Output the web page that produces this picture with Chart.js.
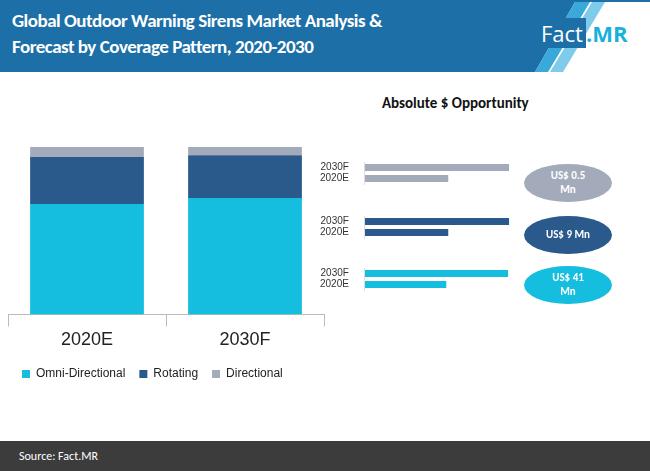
<!DOCTYPE html>
<html>
<head>
<meta charset="utf-8">
<script src="https://cdn.jsdelivr.net/npm/chart.js@4"></script>
<style>
  body { margin: 0; width: 650px; height: 471px; background: #fff; position: relative; overflow: hidden; font-family: Calibri, "Liberation Sans", Arial, sans-serif; }
  .hdr { position: absolute; left: 0; top: 0; width: 650px; height: 72px; }
  .title { position: absolute; left: 12px; top: 8px; color: #fff; font-size: 19px; font-weight: bold; line-height: 26px; letter-spacing: -0.5px; }
  .logo { position: absolute; left: 538px; top: 18px; font-size: 22px; font-family: "Open Sans", sans-serif; }
  .logo .box { background: #1d6fa8; color: #fff; padding: 0 3px; }
  .logo .mr { color: #18b0dc; font-weight: bold; }
  .sub { position: absolute; left: 382px; top: 94px; font-size: 15px; font-weight: bold; color: #111; }
  .badge { position: absolute; width: 88px; height: 38px; border-radius: 50%; color: #fff; font-size: 11px; font-weight: bold; display: flex; align-items: center; justify-content: center; text-align: center; line-height: 14px; }
  .footer { position: absolute; left: 0; top: 441px; width: 650px; height: 30px; background: #3c3c3c; color: #fff; font-size: 12px; line-height: 30px; }
  canvas { position: absolute; }
</style>
</head>
<body>
<svg class="hdr" viewBox="0 0 650 72">
  <polygon points="0,0 650,0 650,2 575,2 535,72 0,72" fill="#1d6fa8"/>
  <polygon points="575,2 590,2 548,72 535,72" fill="#3aa8d8"/>
  <polygon points="592,2 605,2 563,72 550,72" fill="#7fcbea"/>
</svg>
<div class="title">Global Outdoor Warning Sirens Market Analysis &amp;<br>Forecast by Coverage Pattern, 2020-2030</div>
<div class="logo"><span class="box">Fact</span><span class="mr">.MR</span></div>
<div class="sub">Absolute $ Opportunity</div>

<div id="leftBox" style="position:absolute;left:0;top:140px;width:330px;height:250px"><canvas id="left"></canvas></div>
<canvas id="r1"></canvas>
<canvas id="r2"></canvas>
<canvas id="r3"></canvas>

<div class="badge" style="left:524px;top:164px;background:#a3abbb">US$ 0.5<br>Mn</div>
<div class="badge" style="left:524px;top:216px;background:#2a5a8c">US$ 9 Mn</div>
<div class="badge" style="left:524px;top:266px;background:#15bede">US$ 41<br>Mn</div>

<div class="footer">&nbsp;&nbsp;&nbsp;&nbsp;&nbsp;&nbsp;&nbsp;Source: Fact.MR</div>

<script>
const years = ["2020E", "2030F"];
const omni = [66, 69.5];
const rotating = [28, 25.5];
const directional = [6, 5];

const barYears = ["2030F", "2020E"];
const directionalAbs = [147, 85];
const rotatingAbs = [147, 85];
const omniAbs = [146, 83];

const CYAN = "#15bede", NAVY = "#2a5a8c", GRAY = "#a3abbb";

function place(id, l, t, w, h) {
  const c = document.getElementById(id);
  c.style.left = l + "px"; c.style.top = t + "px";
  c.style.width = w + "px"; c.style.height = h + "px";
  c.width = w; c.height = h;
  return c;
}

new Chart(document.getElementById("left"), {
  type: "bar",
  data: {
    labels: years,
    datasets: [
      { label: "Omni-Directional", data: omni, backgroundColor: CYAN },
      { label: "Rotating", data: rotating, backgroundColor: NAVY },
      { label: "Directional", data: directional, backgroundColor: GRAY },
    ],
  },
  options: {
    responsive: true, maintainAspectRatio: false, animation: false,
    layout: { padding: { left: 8, right: 6, top: 7 } },
    plugins: {
      legend: { position: "bottom", align: "start",
        labels: { boxWidth: 8, boxHeight: 8, font: { size: 12 }, color: "#222", padding: 14 } },
      tooltip: { enabled: false },
    },
    scales: {
      x: { stacked: true, categoryPercentage: 0.8, barPercentage: 0.5,
        grid: { display: true, drawOnChartArea: false, tickLength: 12, color: "#bbb", offset: true },
        border: { color: "#bbb" },
        ticks: { font: { size: 18 }, color: "#222" } },
      y: { stacked: true, display: false, min: 0, max: 100 },
    },
  },
});

function small(id, top, data, color) {
  const c = place(id, 312, top, 200, 50);
  new Chart(c, {
    type: "bar",
    data: { labels: barYears, datasets: [{ data, backgroundColor: color, categoryPercentage: 1, barPercentage: 0.62 }] },
    options: {
      indexAxis: "y", responsive: false, animation: false,
      plugins: { legend: { display: false }, tooltip: { enabled: false } },
      layout: { padding: { top: 2, bottom: 2, right: 0 } },
      scales: {
        x: { display: false, min: 0, max: 150 },
        y: { grid: { display: false }, border: { color: "#ddd" },
          ticks: { font: { size: 10 }, color: "#333", padding: 8 } },
      },
    },
  });
}
small("r1", 148, directionalAbs, GRAY);
small("r2", 202, rotatingAbs, NAVY);
small("r3", 254, omniAbs, CYAN);
</script>
</body>
</html>
